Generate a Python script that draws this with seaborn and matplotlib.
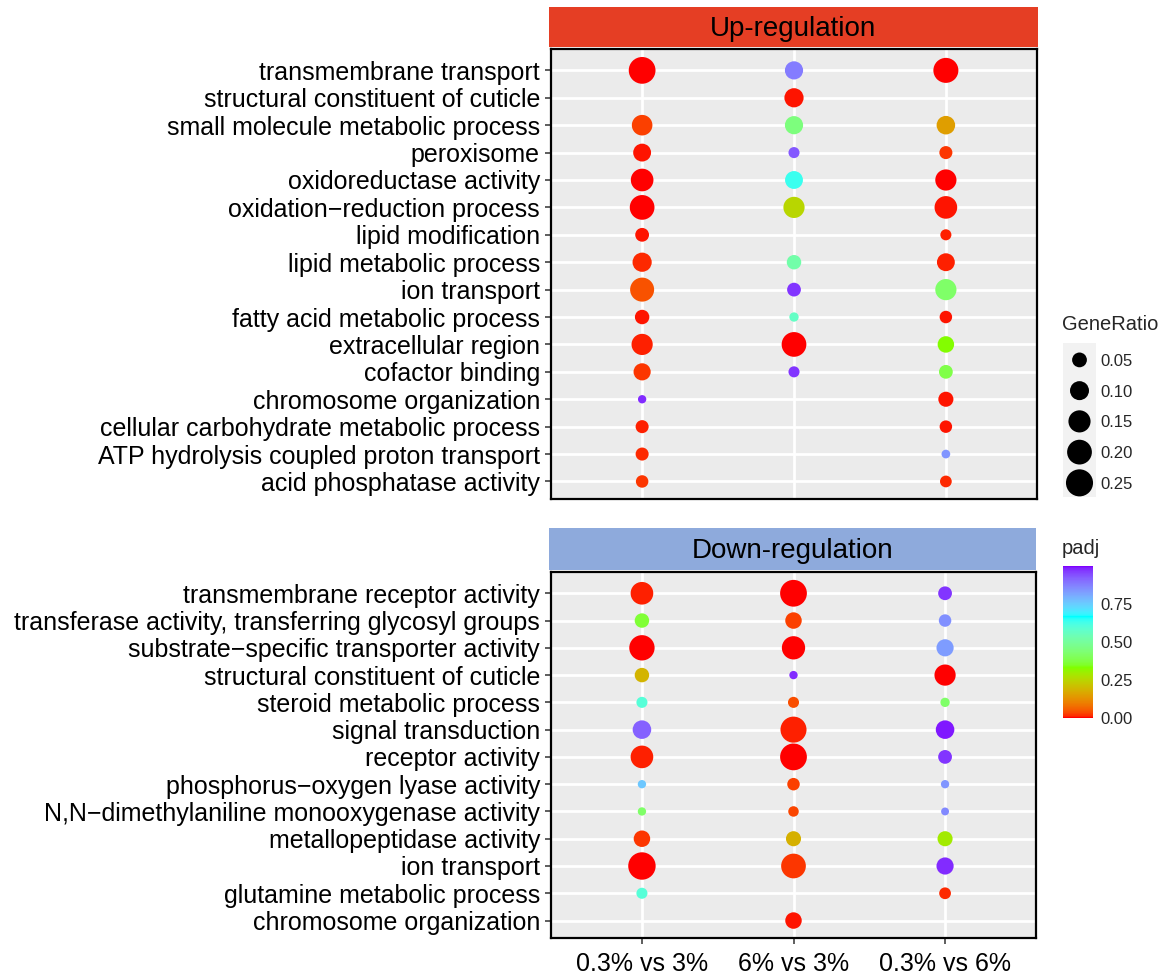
import numpy as np
import pandas as pd
import matplotlib
matplotlib.use("Agg")
import matplotlib.pyplot as plt
from matplotlib.colors import FuncNorm, ListedColormap, Normalize
import matplotlib.cm as cm
import seaborn as sns

# ---------------------------------------------------------------- data
comparisons = ["0.3% vs 3%", "6% vs 3%", "0.3% vs 6%"]

up_terms = [
    "transmembrane transport",
    "structural constituent of cuticle",
    "small molecule metabolic process",
    "peroxisome",
    "oxidoreductase activity",
    "oxidation\u2212reduction process",
    "lipid modification",
    "lipid metabolic process",
    "ion transport",
    "fatty acid metabolic process",
    "extracellular region",
    "cofactor binding",
    "chromosome organization",
    "cellular carbohydrate metabolic process",
    "ATP hydrolysis coupled proton transport",
    "acid phosphatase activity",
]
# one row per term, one column per comparison (None = term not enriched)
up_ratio = [
    [0.243, 0.089, 0.205],
    [None, 0.103, None],
    [0.124, 0.089, 0.094],
    [0.085, 0.022, 0.035],
    [0.159, 0.085, 0.134],
    [0.199, 0.134, 0.159],
    [0.041, None, 0.022],
    [0.103, 0.047, 0.085],
    [0.185, 0.041, 0.134],
    [0.047, 0.014, 0.031],
    [0.134, 0.199, 0.068],
    [0.076, 0.022, 0.041],
    [0.011, None, 0.053],
    [0.035, None, 0.031],
    [0.035, None, 0.012],
    [0.031, None, 0.026],
]
up_padj = [
    [0.003, 0.88, 0.002],
    [None, 0.005, None],
    [0.030, 0.45, 0.15],
    [0.005, 0.93, 0.020],
    [0.002, 0.64, 0.003],
    [0.001, 0.25, 0.004],
    [0.005, None, 0.008],
    [0.012, 0.52, 0.010],
    [0.045, 0.97, 0.42],
    [0.005, 0.57, 0.006],
    [0.010, 0.001, 0.33],
    [0.020, 0.97, 0.38],
    [0.98, None, 0.005],
    [0.008, None, 0.006],
    [0.012, None, 0.84],
    [0.020, None, 0.012],
]

down_terms = [
    "transmembrane receptor activity",
    "transferase activity, transferring glycosyl groups",
    "substrate\u2212specific transporter activity",
    "structural constituent of cuticle",
    "steroid metabolic process",
    "signal transduction",
    "receptor activity",
    "phosphorus\u2212oxygen lyase activity",
    "N,N\u2212dimethylaniline monooxygenase activity",
    "metallopeptidase activity",
    "ion transport",
    "glutamine metabolic process",
    "chromosome organization",
]
down_ratio = [
    [0.159, 0.243, 0.041],
    [0.047, 0.068, 0.031],
    [0.212, 0.171, 0.076],
    [0.047, 0.011, 0.134],
    [0.022, 0.022, 0.014],
    [0.094, 0.227, 0.094],
    [0.159, 0.243, 0.041],
    [0.011, 0.031, 0.011],
    [0.011, 0.019, 0.010],
    [0.068, 0.053, 0.053],
    [0.258, 0.199, 0.076],
    [0.022, None, 0.026],
    [None, 0.068, None],
]
down_padj = [
    [0.010, 0.001, 0.97],
    [0.36, 0.030, 0.85],
    [0.001, 0.003, 0.83],
    [0.19, 0.98, 0.002],
    [0.60, 0.040, 0.42],
    [0.92, 0.008, 0.99],
    [0.010, 0.002, 0.97],
    [0.76, 0.030, 0.84],
    [0.42, 0.035, 0.86],
    [0.020, 0.18, 0.29],
    [0.001, 0.020, 0.98],
    [0.60, None, 0.015],
    [None, 0.005, None],
]

legend_ratios = [0.05, 0.10, 0.15, 0.20, 0.25]
legend_labels = ["0.05", "0.10", "0.15", "0.20", "0.25"]
padj_ticks = [0.0, 0.25, 0.5, 0.75]
padj_labels = ["0.00", "0.25", "0.50", "0.75"]


def long_table(terms, ratio, padj):
    rows = []
    for term, r_row, p_row in zip(terms, ratio, padj):
        for comp, r, p in zip(comparisons, r_row, p_row):
            if r is not None:
                rows.append({"term": term, "comparison": comp,
                             "GeneRatio": r, "padj": p})
    return pd.DataFrame(rows)


up_df = long_table(up_terms, up_ratio, up_padj)
down_df = long_table(down_terms, down_ratio, down_padj)

# ---------------------------------------------------------------- style
sns.set_theme(style="white")
plt.rcParams["font.family"] = ["Liberation Sans", "DejaVu Sans"]

W, H, DPI = 1168, 975, 100
PT = 72.0 / DPI


def rect(x0, y0, x1, y1):
    return [x0 / W, 1 - y1 / H, (x1 - x0) / W, (y1 - y0) / H]


# rainbow(4) ramp (red -> chartreuse -> cyan -> violet), interpolated in CIELAB
def _srgb_to_lab(rgb):
    rgb = np.asarray(rgb, float)
    lin = np.where(rgb <= 0.04045, rgb / 12.92, ((rgb + 0.055) / 1.055) ** 2.4)
    M = np.array([[0.4124564, 0.3575761, 0.1804375],
                  [0.2126729, 0.7151522, 0.0721750],
                  [0.0193339, 0.1191920, 0.9503041]])
    xyz = M @ lin / np.array([0.95047, 1.0, 1.08883])
    d = 6 / 29
    f = np.where(xyz > d ** 3, np.cbrt(xyz), xyz / (3 * d * d) + 4 / 29)
    return np.array([116 * f[1] - 16, 500 * (f[0] - f[1]), 200 * (f[1] - f[2])])


def _lab_to_srgb(lab):
    L, a, b = lab
    fy = (L + 16) / 116
    fx = fy + a / 500
    fz = fy - b / 200
    d = 6 / 29
    f = np.array([fx, fy, fz])
    xyz = np.where(f > d, f ** 3, 3 * d * d * (f - 4 / 29))
    xyz = xyz * np.array([0.95047, 1.0, 1.08883])
    Minv = np.array([[3.2404542, -1.5371385, -0.4985314],
                     [-0.9692660, 1.8760108, 0.0415560],
                     [0.0556434, -0.2040259, 1.0572252]])
    lin = np.clip(Minv @ xyz, 0, 1)
    rgb = np.where(lin <= 0.0031308, 12.92 * lin, 1.055 * lin ** (1 / 2.4) - 0.055)
    return np.clip(rgb, 0, 1)


anchors = [(1.0, 0.0, 0.0), (0.5, 1.0, 0.0), (0.0, 1.0, 1.0), (0.5, 0.0, 1.0)]
labs = [_srgb_to_lab(c) for c in anchors]
ramp = []
for t in np.linspace(0, 1, 256):
    pos = t * (len(anchors) - 1)
    i = min(int(pos), len(anchors) - 2)
    w = pos - i
    ramp.append(_lab_to_srgb((1 - w) * labs[i] + w * labs[i + 1]))
padj_cmap = ListedColormap(ramp, name="padj_rainbow")
padj_norm = Normalize(0.0, 1.0)

# point diameter (px) grows with sqrt of the rescaled ratio
D_MIN, D_SPAN = 6.0, 21.5
R_LO, R_HI = 0.008, 0.26


def _area(v):
    u = np.clip((np.asarray(v, float) - R_LO) / (R_HI - R_LO), 0, 1)
    return (D_MIN + D_SPAN * np.sqrt(u)) ** 2


def _area_inv(y):
    return R_LO + (R_HI - R_LO) * ((np.sqrt(y) - D_MIN) / D_SPAN) ** 2


size_norm = FuncNorm((_area, _area_inv), vmin=R_LO, vmax=R_HI)
size_range = ((PT * D_MIN) ** 2, (PT * (D_MIN + D_SPAN)) ** 2)

TXT = 18

fig = plt.figure(figsize=(W / DPI, H / DPI), dpi=DPI)


def draw_panel(ax, df, terms, show_x):
    sns.scatterplot(data=df, x="comparison", y="term", hue="padj",
                    palette=padj_cmap, hue_norm=padj_norm,
                    size="GeneRatio", sizes=size_range, size_norm=size_norm,
                    linewidth=0, legend=False, ax=ax, zorder=3)
    ax.set_facecolor("#EBEBEB")
    ax.set_axisbelow(True)
    ax.grid(True, color="white", linewidth=2.0)
    ax.set_xlim(-0.6, len(comparisons) - 0.4)
    ax.set_ylim(len(terms) - 1 + 0.64, -0.78)
    ax.set_xlabel("")
    ax.set_ylabel("")
    for s in ax.spines.values():
        s.set_color("black")
        s.set_linewidth(1.6)
    ax.tick_params(axis="y", length=4, width=1.1, color="#333333",
                   labelsize=TXT, labelcolor="black", pad=4, left=True)
    if show_x:
        ax.tick_params(axis="x", length=4, width=1.1, color="#333333",
                       labelsize=TXT, labelcolor="black", pad=6, bottom=True)
    else:
        ax.tick_params(axis="x", length=0, labelbottom=False)


def draw_strip(ax, label, color):
    ax.set_facecolor(color)
    ax.set_xticks([])
    ax.set_yticks([])
    for s in ax.spines.values():
        s.set_visible(False)
    ax.text(0.5, 0.45, label, ha="center", va="center", fontsize=20,
            color="black", transform=ax.transAxes)


ax_up = fig.add_axes(rect(551, 49, 1037, 499))
draw_panel(ax_up, up_df, up_terms, show_x=False)
draw_strip(fig.add_axes(rect(549, 7, 1038, 47)), "Up-regulation", "#E53E24")

ax_dn = fig.add_axes(rect(551, 572, 1036, 938))
draw_panel(ax_dn, down_df, down_terms, show_x=True)
draw_strip(fig.add_axes(rect(549, 528, 1036, 570)), "Down-regulation", "#8EAADC")

# ---------------------------------------------------------------- size legend
fig.text(1062 / W, 1 - 325 / H, "GeneRatio", fontsize=14.5, ha="left", va="center")
ax_leg = fig.add_axes(rect(1063, 343, 1096, 497))
sns.scatterplot(x=[0] * len(legend_ratios), y=list(range(len(legend_ratios))),
                size=legend_ratios, sizes=size_range, size_norm=size_norm,
                color="black", linewidth=0, legend=False, ax=ax_leg)
ax_leg.set_facecolor("#F2F2F2")
ax_leg.set_xlim(-0.5, 0.5)
ax_leg.set_ylim(4.46, -0.55)
ax_leg.set_xticks([])
ax_leg.yaxis.tick_right()
ax_leg.set_yticks(range(len(legend_ratios)))
ax_leg.set_yticklabels(legend_labels)
ax_leg.tick_params(axis="y", length=0, pad=3, labelsize=12, right=True, left=False)
for s in ax_leg.spines.values():
    s.set_visible(False)

# ---------------------------------------------------------------- padj colourbar
fig.text(1062 / W, 1 - 548 / H, "padj", fontsize=14.5, ha="left", va="center")
cax = fig.add_axes(rect(1063, 566, 1093, 718))
sm = cm.ScalarMappable(norm=padj_norm, cmap=padj_cmap)
cbar = fig.colorbar(sm, cax=cax, ticks=padj_ticks)
cbar.ax.set_yticklabels(padj_labels)
cbar.outline.set_visible(False)
cbar.ax.tick_params(axis="y", direction="in", color="white", length=6, width=1,
                    left=True, right=True, labelsize=12, pad=5)

fig.savefig("out.png", dpi=DPI, facecolor="white")
